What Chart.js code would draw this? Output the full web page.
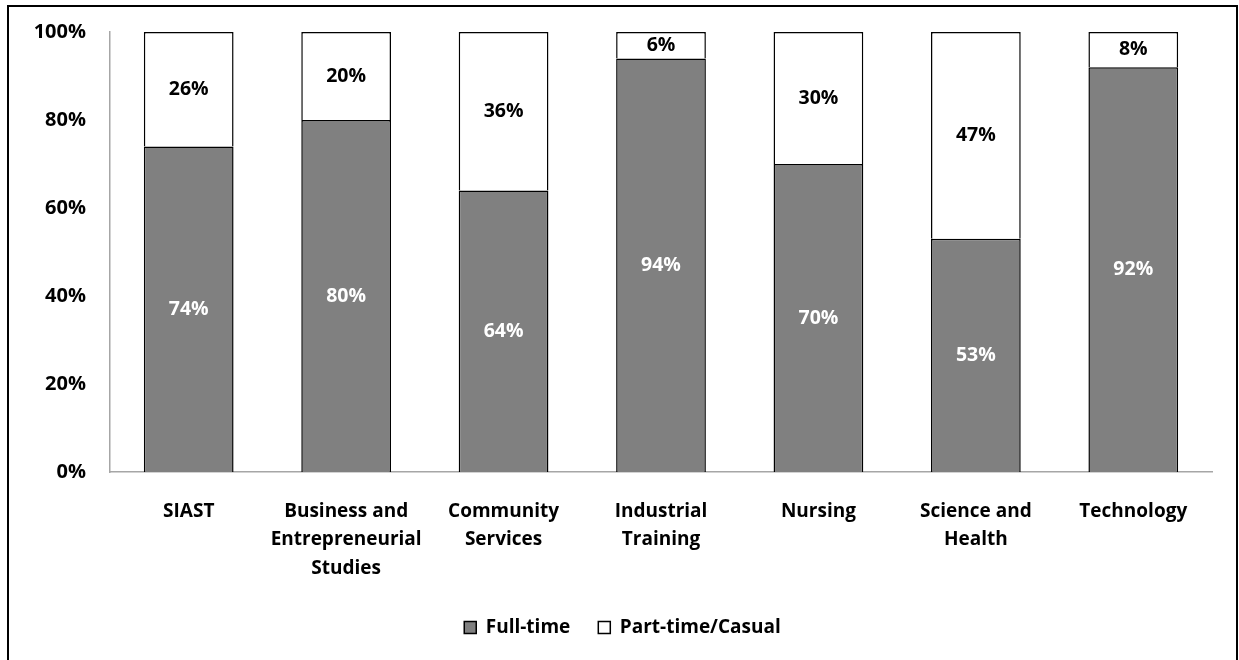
<!DOCTYPE html>
<html>
<head>
<meta charset="utf-8">
<script src="https://cdn.jsdelivr.net/npm/chart.js@4.4.1/dist/chart.umd.min.js"></script>
<style>
  html, body { margin: 0; padding: 0; background: #fff; }
  #wrap { position: relative; width: 1239px; height: 660px; }
</style>
</head>
<body>
<div id="wrap"><canvas id="chart" width="1239" height="660"></canvas></div>
<script>
  'use strict';

  // ── Data ──────────────────────────────────────────────────────────

  var CATEGORIES = [
    'SIAST',
    ['Business and', 'Entrepreneurial', 'Studies'],
    ['Community', 'Services'],
    ['Industrial', 'Training'],
    'Nursing',
    ['Science and', 'Health'],
    'Technology'
  ];
  var FULL_TIME = [74, 80, 64, 94, 70, 53, 92];
  var PART_TIME = [26, 20, 36, 6, 30, 47, 8];
  var Y_TICKS   = [0, 20, 40, 60, 80, 100];

  // ── Styles ────────────────────────────────────────────────────────

  var GRAY = '#808080';
  var AXIS = '#a6a6a6';
  var FONT = '"Open Sans", "DejaVu Sans", sans-serif';

  Chart.defaults.font.family = FONT;
  Chart.defaults.font.weight = 'bold';
  Chart.defaults.font.size = 19;
  Chart.defaults.color = '#000';

  // draws the percentage inside each bar segment
  var segmentLabels = {
    id: 'segmentLabels',
    afterDatasetsDraw: function (chart) {
      var ctx = chart.ctx;
      ctx.save();
      ctx.font = 'bold 19.5px ' + FONT;
      ctx.textAlign = 'center';
      ctx.textBaseline = 'middle';
      chart.data.datasets.forEach(function (ds, di) {
        var meta = chart.getDatasetMeta(di);
        ctx.fillStyle = di === 0 ? '#fff' : '#000';
        meta.data.forEach(function (bar, i) {
          var p = bar.getProps(['x', 'y', 'base'], true);
          ctx.fillText(ds.data[i] + '%', p.x, (p.y + p.base) / 2);
        });
      });
      ctx.restore();
    }
  };

  // outer frame of the figure
  var frame = {
    id: 'frame',
    afterDraw: function (chart) {
      var ctx = chart.ctx;
      ctx.save();
      ctx.strokeStyle = '#000';
      ctx.lineWidth = 2;
      ctx.strokeRect(8, 6, 1229, 700);
      ctx.restore();
    }
  };

  new Chart(document.getElementById('chart'), {
    type: 'bar',
    data: {
      labels: CATEGORIES,
      datasets: [
        {
          label: 'Full-time',
          data: FULL_TIME,
          backgroundColor: GRAY,
          borderColor: '#000',
          borderWidth: 1.5,
          categoryPercentage: 1,
          barPercentage: 0.57
        },
        {
          label: 'Part-time/Casual',
          data: PART_TIME,
          backgroundColor: '#fff',
          borderColor: '#000',
          borderWidth: 1.5,
          categoryPercentage: 1,
          barPercentage: 0.57
        }
      ]
    },
    options: {
      responsive: false,
      animation: false,
      layout: { padding: { top: 32, right: 27, bottom: 13, left: 33 } },
      plugins: {
        legend: {
          position: 'bottom',
          labels: {
            boxWidth: 12,
            boxHeight: 12,
            padding: 28,
            font: { size: 19, weight: 'bold' }
          }
        },
        tooltip: { enabled: false }
      },
      scales: {
        x: {
          stacked: true,
          grid: { display: false, drawTicks: false },
          border: { color: AXIS, width: 1.5 },
          ticks: { padding: 25, maxRotation: 0, autoSkip: false, font: { size: 19, lineHeight: 1.5 } },
          afterFit: function (scale) { scale.height = 118; }
        },
        y: {
          stacked: true,
          min: 0,
          max: 100,
          grid: { display: false, drawTicks: false },
          border: { color: AXIS, width: 1.5 },
          afterBuildTicks: function (scale) {
            scale.ticks = Y_TICKS.map(function (v) { return { value: v }; });
          },
          ticks: {
            padding: 24,
            font: { size: 20 },
            callback: function (v) { return v + '%'; }
          },
          afterFit: function (scale) {
            scale.width = 77;
            scale.paddingTop = 0;
            scale.paddingBottom = 0;
          }
        }
      }
    },
    plugins: [segmentLabels, frame]
  });
</script>
</body>
</html>
